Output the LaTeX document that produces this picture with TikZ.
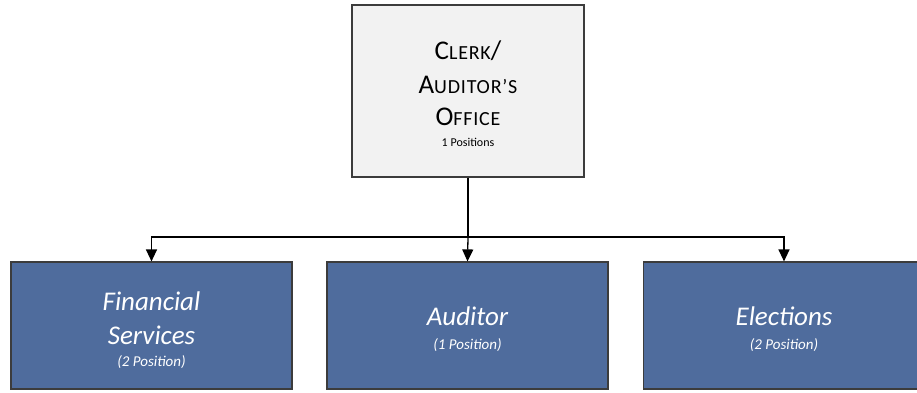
\documentclass[tikz,border=0pt]{standalone}
\usepackage{fontspec}
\setmainfont{Carlito}
\usetikzlibrary{arrows.meta}
\definecolor{boxblue}{RGB}{79,108,157}
\definecolor{boxgray}{RGB}{242,242,242}
\definecolor{edgegray}{RGB}{60,60,60}
\newcommand{\smc}[1]{{\fontsize{20}{34}\selectfont\addfontfeature{LetterSpace=4}#1}}
\tikzset{
  topbox/.style={draw=edgegray, line width=1.4pt, fill=boxgray, minimum width=232pt, minimum height=172pt, inner sep=0pt},
  unitbox/.style={draw=edgegray, line width=1.2pt, fill=boxblue, minimum width=281pt, minimum height=127pt, inner sep=0pt},
  toptext/.style={align=center, inner sep=0pt, text=black, font=\fontsize{27}{34}\selectfont},
  unittext/.style={align=center, inner sep=0pt, text=white, font=\fontsize{27}{34}\selectfont\itshape},
  conn/.style={line width=1.3pt, black},
  arr/.style={conn, -{Triangle[width=11pt,length=12pt]}}
}
\newcommand{\pos}[1]{{\fontsize{15}{18}\selectfont #1}}
\begin{document}
\begin{tikzpicture}[x=1pt,y=-1pt]
\useasboundingbox (0,0) rectangle (917,392);
\clip (0,0) rectangle (917,392);
\node[topbox] (top) at (468,91) {};
\node[unitbox] (fin) at (151.5,325.5) {};
\node[unitbox] (aud) at (467.5,325.5) {};
\node[unitbox] (ele) at (784,325.5) {};
\node[toptext] (topt) at ([yshift=-3pt]top.center) {C\smc{LERK}/\\A\smc{UDITOR’S}\\[-2pt]O\smc{FFICE}\\[-13pt]{\fontsize{12}{14}\selectfont 1 Positions}};
\node[unittext] (fint) at ([yshift=-5pt]fin.center) {Financial\\Services\\[-12pt]\pos{(2 Position)}};
\node[unittext] (audt) at ([yshift=-4pt]aud.center) {Auditor\\[-10pt]\pos{(1 Position)}};
\node[unittext] (elet) at ([yshift=-4pt]ele.center) {Elections\\[-10pt]\pos{(2 Position)}};
\coordinate (bus) at (468,237);
\draw[conn] (top.south) -- (bus);
\draw[arr] (bus) -| (fin.north);
\draw[arr] (bus) -- (aud.north);
\draw[arr] (bus) -| (ele.north);
\end{tikzpicture}
\end{document}
